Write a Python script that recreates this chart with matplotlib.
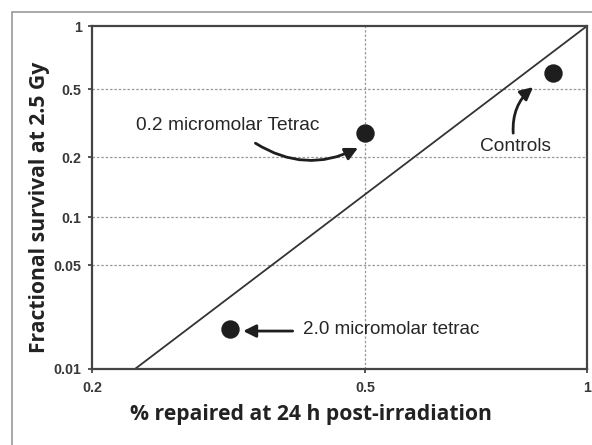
import numpy as np
import matplotlib.pyplot as plt
from matplotlib.patches import Rectangle

# data
labels = ["Controls", "0.2 micromolar Tetrac", "2.0 micromolar tetrac"]
repaired = [0.9, 0.5, 0.318]
survival = [0.6, 0.276, 0.0186]

line_x = [0.2, 0.231, 1.0]
line_y = [0.01, 0.01, 1.0]

xticks = [0.2, 0.5, 1]
yticks = [0.01, 0.05, 0.1, 0.2, 0.5, 1]

# the scanned axes are not quite evenly logarithmic: map each tick to where
# it sits in the original and interpolate in log space between them
xpos = [0.0, 0.552, 1.0]
ypos = [0.0, 0.303, 0.443, 0.618, 0.816, 1.0]


def make_scale(ticks, pos):
    lt = np.log10(ticks)

    def fwd(v):
        v = np.clip(np.asarray(v, dtype=float), 1e-6, None)
        return np.interp(np.log10(v), lt, pos)

    def inv(p):
        return 10 ** np.interp(p, pos, lt)
    return fwd, inv


fig = plt.figure(figsize=(5.92, 4.45), dpi=100)
ax = fig.add_axes([92 / 592, 1 - 369 / 445, 495 / 592, 343 / 445])

ax.set_xscale("function", functions=make_scale(xticks, xpos))
ax.set_yscale("function", functions=make_scale(yticks, ypos))
ax.set_xlim(0.2, 1)
ax.set_ylim(0.01, 1)

ax.set_xticks(xticks)
ax.set_xticklabels(["0.2", "0.5", "1"])
ax.set_yticks(yticks)
ax.set_yticklabels(["0.01", "0.05", "0.1", "0.2", "0.5", "1"])
ax.minorticks_off()
ax.tick_params(labelsize=10.3, colors="#3a3a3a", length=3, width=1.2)
ax.tick_params(axis="x", pad=6)
ax.tick_params(axis="y", pad=4.5)
for lab in ax.get_xticklabels() + ax.get_yticklabels():
    lab.set_fontfamily("Liberation Sans")
    lab.set_fontweight("bold")

# dotted gridlines
for yv in [0.05, 0.1, 0.2, 0.5]:
    ax.axhline(yv, color="#999999", lw=0.9, ls=(0, (2, 1.5)), zorder=0)
ax.axvline(0.5, color="#999999", lw=0.9, ls=(0, (2, 1.5)), zorder=0)

for s in ax.spines.values():
    s.set_linewidth(1.6)
    s.set_color("#444444")

ax.plot(line_x, line_y, color="#333333", lw=1.3, zorder=2)

ax.scatter(repaired, survival, s=150, color="#1e1e1e", zorder=3)

tfont = dict(family="Liberation Sans", color="#262626")
arrow = dict(arrowstyle="-|>", color="#1e1e1e", lw=2.0, mutation_scale=19)

ax.annotate("", xy=(0.488, 0.226), xytext=(0.346, 0.241),
            arrowprops=dict(arrow, connectionstyle="arc3,rad=0.28",
                            shrinkA=0, shrinkB=0))
ax.text(0.232, 0.304, labels[1], ha="left", va="center", fontsize=13.8,
        **tfont)

ax.annotate("", xy=(0.845, 0.511), xytext=(0.794, 0.276),
            arrowprops=dict(arrow, connectionstyle="arc3,rad=-0.25",
                            shrinkA=0, shrinkB=0))
ax.text(0.799, 0.229, labels[0], ha="center", va="center", fontsize=13.8,
        **tfont)

ax.annotate("", xy=(0.332, 0.018), xytext=(0.392, 0.018),
            arrowprops=dict(arrow, shrinkA=0, shrinkB=0))
ax.text(0.406, 0.0185, labels[2], ha="left", va="center", fontsize=13.6,
        **tfont)

ax.set_xlabel("% repaired at 24 h post-irradiation", family="Open Sans",
              fontweight="bold", fontsize=15.2, color="#222222", va="center")
ax.set_ylabel("Fractional survival at 2.5 Gy", family="Open Sans",
              fontweight="bold", fontsize=15.2, color="#222222", va="center")
ax.xaxis.set_label_coords(0.442, -0.134)
ax.yaxis.set_label_coords(-0.107, 0.472)

# outer frame around the figure
fig.patches.append(Rectangle((12 / 592, -0.02), 1.05, 1 - 12 / 445 + 0.02,
                             transform=fig.transFigure, fill=False,
                             edgecolor="#999999", lw=1.2))

fig.savefig("out.png", dpi=100)
